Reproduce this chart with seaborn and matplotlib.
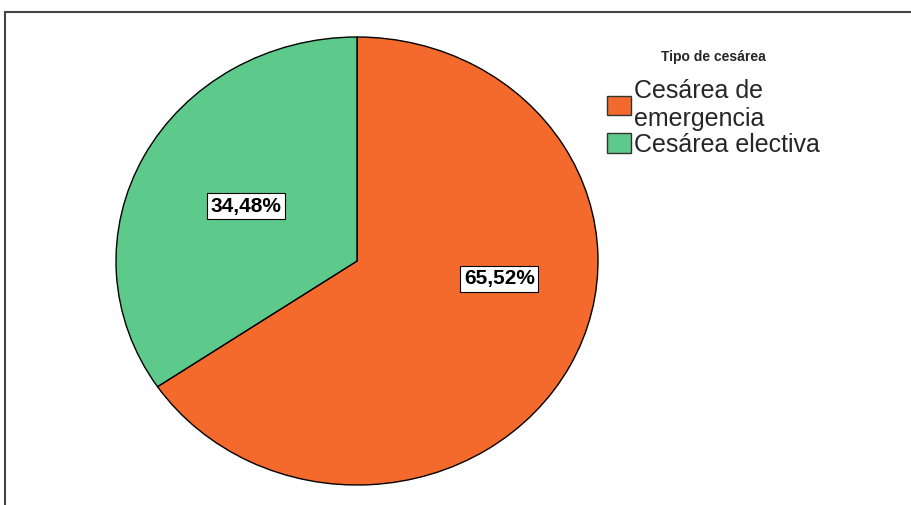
import matplotlib
matplotlib.use("Agg")
import matplotlib.pyplot as plt
import seaborn as sns
from matplotlib.patches import Patch
from matplotlib.lines import Line2D

# Data
categories = ["Cesárea de\nemergencia", "Cesárea electiva"]
percentages = [65.52, 34.48]
colors = ["#f36a2c", "#5dca8b"]
legend_title = "Tipo de cesárea"


def main():
    sns.set_style("white")
    plt.rcParams["font.family"] = ["Liberation Sans", "DejaVu Sans"]

    fig = plt.figure(figsize=(9.12, 5.05), dpi=100)
    W, H = 912, 505
    # pie occupies an ellipse-shaped box like the SPSS output
    ax = fig.add_axes([116 / W, (H - 485) / H, 482 / W, 448 / H])

    wedges, texts, autotexts = ax.pie(
        percentages,
        colors=colors,
        startangle=90,
        counterclock=False,
        radius=1,
        autopct=lambda p: f"{p:.2f}%".replace(".", ","),
        pctdistance=0.52,
        wedgeprops=dict(edgecolor="black", linewidth=1.0),
    )
    ax.set_aspect("auto")
    ax.set_xlim(-1, 1)
    ax.set_ylim(-1, 1)
    for w in wedges:
        w.set_clip_on(False)

    for t in autotexts:
        t.set_fontsize(15)
        t.set_fontweight("bold")
        t.set_color("black")
        t.set_bbox(dict(facecolor="white", edgecolor="black", linewidth=0.8, pad=2.5))
    # SPSS pushes the big slice label nearer the horizontal
    autotexts[0].set_position((0.59, -0.08))

    handles = [Patch(facecolor=c, edgecolor="#333333", linewidth=1.0) for c in colors]
    leg = fig.legend(
        handles, categories,
        title=legend_title,
        loc="upper left",
        bbox_to_anchor=(590 / W, 1 - 32 / H),
        frameon=False,
        fontsize=18,
        title_fontproperties={"weight": "bold", "size": 10},
        handlelength=0.95,
        handleheight=0.85,
        handletextpad=0.1,
        labelspacing=0.1,
        borderpad=0.2,
    )
    leg._legend_box.sep = 11

    # outer frame (left and top edges visible)
    fig.add_artist(Line2D([5 / W, 5 / W], [0, 1 - 12 / H], color="#444444", linewidth=1.5))
    fig.add_artist(Line2D([5 / W, 1], [1 - 12 / H, 1 - 12 / H], color="#444444", linewidth=1.5))

    fig.savefig("out.png", dpi=100)
    plt.close(fig)


if __name__ == "__main__":
    main()
